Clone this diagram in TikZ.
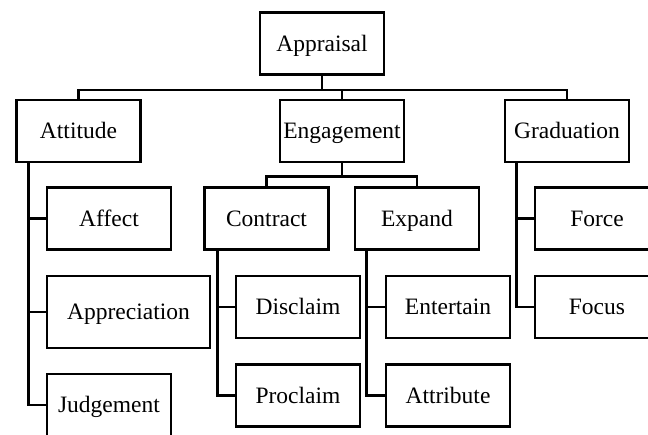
\documentclass[tikz,border=0pt]{standalone}
\usepackage{fontspec}
\setmainfont{Liberation Serif}
\usepackage{tikz}

\begin{document}
\begin{tikzpicture}[x=1pt, y=-1pt, line width=2.8pt,
		every node/.style={font=\fontsize{23.5}{28}\selectfont, text height=17pt, text depth=2pt},
		box/.style={draw, rectangle, minimum width=124pt, minimum height=62pt, inner sep=0pt},
		link/.style={line width=2.8pt, line join=miter}]
			\useasboundingbox (0,0) rectangle (648,434);
			\clip (0,0) rectangle (648,434);
			%   %   %   %   %   %   %   %   %   %   %
			%   Top level
				\node[box] (app) at (322,43.5) {Appraisal};
			%   %   %   %   %   %   %   %   %   %   %
			%   Second level
				\node[box] (att) at (78.5,131) {Attitude};
				\node[box] (eng) at (342,131) {Engagement};
				\node[box] (grad) at (567,131) {Graduation};
				\draw[link] (app.south) -- ++(0,14) -| (att.north);
				\draw[link] (app.south) -- ++(0,14) -| (eng.north);
				\draw[link] (app.south) -- ++(0,14) -| (grad.north);
			%   %   %   %   %   %   %   %   %   %   %
			%   Attitude
				\node[box] (aff) at (109,218.5) {Affect};
				\node[box, minimum width=163pt, minimum height=72pt] (appr) at (128.5,312) {Appreciation};
				\node[box] (judg) at (109,405) {Judgement};
				\draw[link] ([xshift=13pt]att.south west) |- (aff.west);
				\draw[link] ([xshift=13pt]att.south west) |- (appr.west);
				\draw[link] ([xshift=13pt]att.south west) |- (judg.west);
			%   %   %   %   %   %   %   %   %   %   %
			%   Engagement
				\node[box] (con) at (266.5,218.5) {Contract};
				\node[box] (exp) at (417,218.5) {Expand};
				\draw[link] (eng.south) -- ++(0,13) -| (con.north);
				\draw[link] (eng.south) -- ++(0,13) -| (exp.north);
			%   %   %   %   %   %   %   %   %   %   %
			%   Contract
				\node[box] (dis) at (298,307) {Disclaim};
				\node[box] (pro) at (298,395.5) {Proclaim};
				\draw[link] ([xshift=14pt]con.south west) |- (dis.west);
				\draw[link] ([xshift=14pt]con.south west) |- (pro.west);
			%   %   %   %   %   %   %   %   %   %   %
			%   Expand
				\node[box] (ent) at (448,307) {Entertain};
				\node[box] (attr) at (448,395.5) {Attribute};
				\draw[link] ([xshift=13pt]exp.south west) |- (ent.west);
				\draw[link] ([xshift=13pt]exp.south west) |- (attr.west);
			%   %   %   %   %   %   %   %   %   %   %
			%   Graduation
				\node[box] (force) at (597,218.5) {Force};
				\node[box] (focus) at (597,307) {Focus};
				\draw[link] ([xshift=12.5pt]grad.south west) |- (force.west);
				\draw[link] ([xshift=12.5pt]grad.south west) |- (focus.west);
		\end{tikzpicture}
\end{document}
